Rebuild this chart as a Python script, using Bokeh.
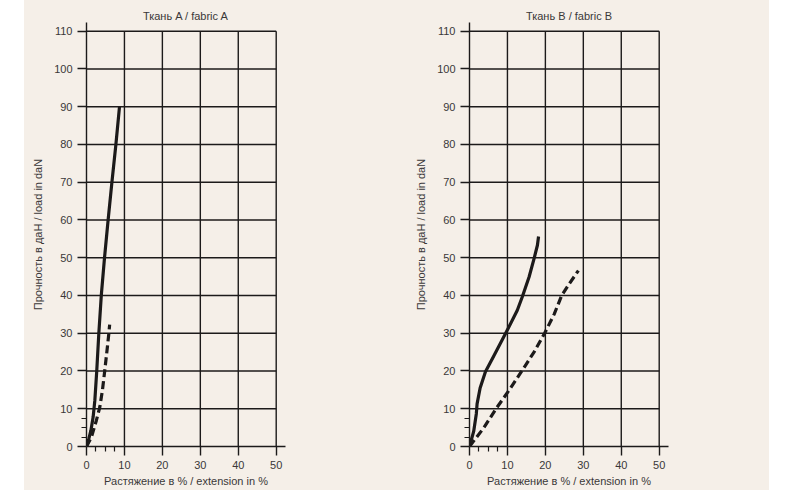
from bokeh.plotting import figure
from bokeh.models import FixedTicker, Spacer, Range1d
from bokeh.layouts import row
from bokeh.embed import file_html
from bokeh.resources import INLINE

# ---------------- data ----------------
x_ticks = [0, 10, 20, 30, 40, 50]
y_ticks = [0, 10, 20, 30, 40, 50, 60, 70, 80, 90, 100, 110]
minor_ticks = [2.5, 5, 7.5]

titles = ["Ткань A / fabric A", "Ткань B / fabric B"]
y_label = "Прочность в даН / load in daN"
x_label = "Растяжение в % / extension in %"

# fabric A
a_solid_x = [0, 0.6, 1.15, 1.75, 2.2, 2.7, 3.25, 3.9, 4.75, 5.7, 6.7, 7.75, 8.7]
a_solid_y = [0, 2, 4.2, 7.8, 12.2, 20, 30, 40, 50, 60, 70, 80, 90]
a_dash_x = [0, 1.3, 2.6, 3.5, 4.2, 4.8, 5.5, 5.9, 6.1]
a_dash_y = [0, 2.5, 6.9, 10.4, 14.9, 20, 26.3, 30, 32.3]

# fabric B
b_solid_x = [0, 1.1, 1.8, 2.0, 2.8, 4.2, 6.4, 9.7, 12.6, 13.9, 15.7, 17.0, 17.9, 18.2]
b_solid_y = [0, 4, 8.7, 11.3, 15.5, 19.8, 24, 30.3, 36.1, 39.6, 44.9, 49.7, 53.3, 55.6]
b_dash_x = [0, 3.8, 7.0, 10.5, 13.8, 17.0, 19.8, 22.3, 24.3, 26.3, 28.7]
b_dash_y = [0, 5, 10, 15, 20, 25, 30, 35, 40, 43.1, 46.6]

# ---------------- style ----------------
BG = "#f5efe8"
INK = "#1c1a1a"
TXT = "#3a3838"
FONT = "Liberation Sans"


def make(title, sx, sy, dx, dy, width, border_right):
    p = figure(width=width, height=490,
               x_range=Range1d(0, 52.45), y_range=Range1d(0, 112.3),
               output_backend="svg", toolbar_location=None,
               min_border_left=62, min_border_right=border_right,
               min_border_top=22, min_border_bottom=44,
               background_fill_color=BG, border_fill_color=BG,
               outline_line_color=None)
    p.xgrid.visible = False
    p.ygrid.visible = False

    # grid drawn as segments bounded by the last ticks
    gx = x_ticks[1:]
    p.segment(x0=gx, y0=[y_ticks[0]] * len(gx), x1=gx, y1=[y_ticks[-1]] * len(gx),
              line_color=INK, line_width=1.4)
    gy = y_ticks[1:]
    p.segment(x0=[x_ticks[0]] * len(gy), y0=gy, x1=[x_ticks[-1]] * len(gy), y1=gy,
              line_color=INK, line_width=1.4)

    p.line(dx, dy, line_color=INK, line_width=3.2, line_dash="8 4", line_join="round")
    p.line(sx, sy, line_color=INK, line_width=3.2, line_join="round")

    p.xaxis.ticker = FixedTicker(ticks=x_ticks, minor_ticks=minor_ticks)
    p.yaxis.ticker = FixedTicker(ticks=y_ticks, minor_ticks=minor_ticks)
    for ax in (p.xaxis, p.yaxis):
        ax.axis_line_color = INK
        ax.axis_line_width = 1.4
        ax.major_tick_line_color = INK
        ax.major_tick_line_width = 1.4
        ax.major_tick_out = 9
        ax.major_tick_in = 0
        ax.minor_tick_line_color = INK
        ax.minor_tick_line_width = 1.2
        ax.minor_tick_out = 5
        ax.minor_tick_in = 0
        ax.major_label_text_font = FONT
        ax.major_label_text_font_size = "11px"
        ax.major_label_text_color = TXT
        ax.major_label_standoff = 5
        ax.axis_label_text_font = FONT
        ax.axis_label_text_font_size = "11px"
        ax.axis_label_text_font_style = "normal"
        ax.axis_label_text_color = TXT
    p.xaxis.axis_label = x_label
    p.xaxis.axis_label_standoff = 3
    p.yaxis.axis_label = y_label
    p.yaxis.axis_label_standoff = 7

    p.title.text = title
    p.title.align = "center"
    p.title.text_font = FONT
    p.title.text_font_size = "11px"
    p.title.text_font_style = "normal"
    p.title.text_color = TXT
    p.title.standoff = 1
    p.title.offset = -4
    return p


pa = make(titles[0], a_solid_x, a_solid_y, a_dash_x, a_dash_y, 383, 122)
pb = make(titles[1], b_solid_x, b_solid_y, b_dash_x, b_dash_y, 362, 101)

charts = row(pa, pb, styles={"background-color": BG})
layout = row(Spacer(width=24, height=490), charts)
open("out.html", "w").write(file_html(layout, INLINE))
